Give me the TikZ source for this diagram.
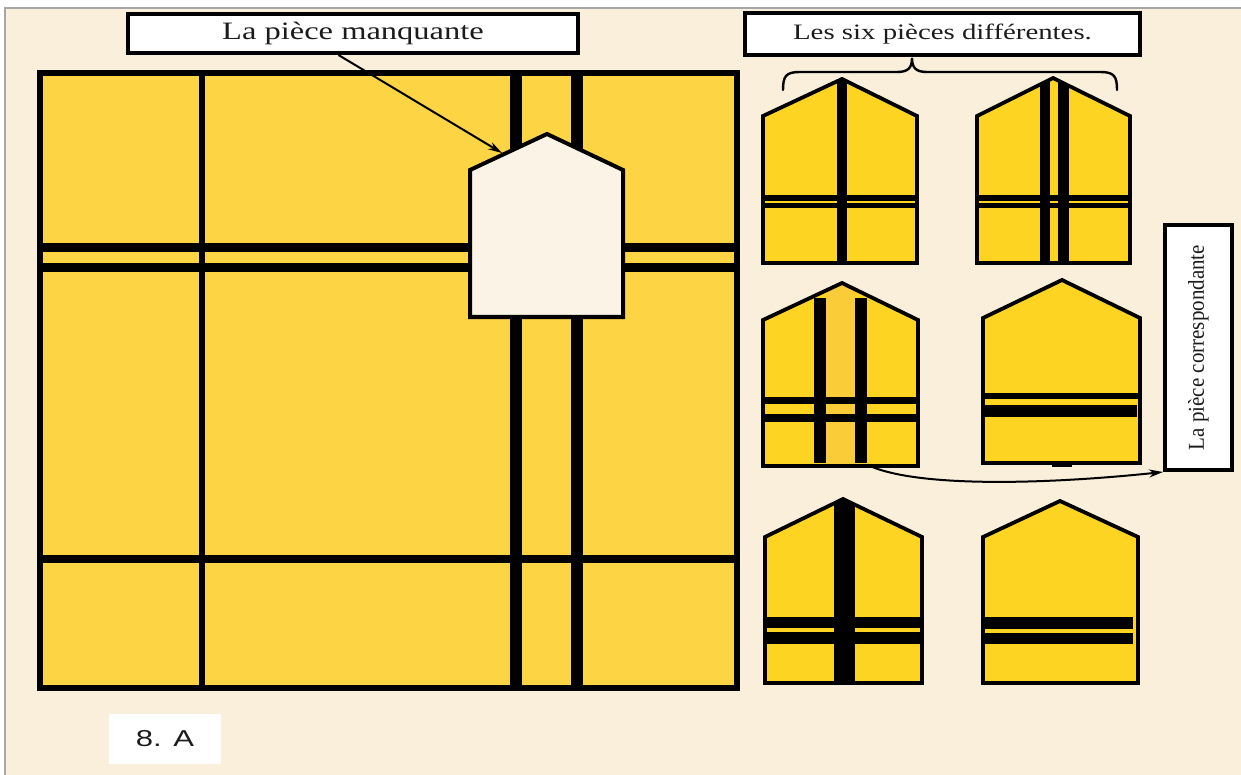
\documentclass[tikz,border=0pt]{standalone}
\usepackage{fontspec}
\setmainfont{Liberation Serif}
\newfontfamily\sansA{Liberation Sans}
\usetikzlibrary{arrows.meta,calc}
\definecolor{bgbeige}{HTML}{F9EFDB}
\definecolor{myellow}{HTML}{FDD544}
\definecolor{pyellow}{HTML}{FDD422}
\definecolor{pstripe}{HTML}{F9CC38}
\definecolor{cream}{HTML}{FBF4E6}
\definecolor{txt}{HTML}{1C1C1C}
\newcommand\pieceshape[7]{%
  \begin{scope}
    \clip (#1,#6) -- (#1,#5) -- (#3,#4) -- (#2,#5) -- (#2,#6) -- cycle;
    \fill[pyellow] (#1,#4) rectangle (#2,#6);
    #7
  \end{scope}
  \draw[pborder] (#1,#6) -- (#1,#5) -- (#3,#4) -- (#2,#5) -- (#2,#6) -- cycle;
}
\begin{document}
\begin{tikzpicture}[x=1pt,y=-1pt,
  pborder/.style={line width=3.8pt, line join=miter},
  labelbox/.style={draw=black, line width=4pt, fill=white, inner sep=0pt, text=txt},
  conn/.style={line width=2pt, -{Stealth[length=14pt,width=8pt]}}]
\useasboundingbox (0,0) rectangle (1241,775);
\fill[white] (0,0) rectangle (1241,775);
\fill[bgbeige] (5,8) rectangle (1241,775);
\draw[gray!70, line width=1.5pt] (5,775) -- (5,8) -- (1241,8);

% main square
\fill[myellow] (40,73) rectangle (737,688);
\draw[line width=8.5pt] (40,247.5) -- (737,247.5);
\draw[line width=8.5pt] (40,267.5) -- (737,267.5);
\draw[line width=8.5pt] (40,559) -- (737,559);
\draw[line width=5.5pt] (202,73) -- (202,688);
\draw[line width=12pt] (516,73) -- (516,688);
\draw[line width=12pt] (577,73) -- (577,688);
\draw[line width=5.5pt] (40,73) rectangle (737,688);
% missing piece
\filldraw[fill=cream, line width=4pt] (470,317) -- (470,170) -- (547,134) -- (623,170) -- (623,317) -- cycle;
\coordinate (mtip) at (502,153);

% six pieces
\pieceshape{763}{917}{842}{79}{116}{263}{%
  \draw[line width=9.5pt] (842,70) -- (842,270);
  \draw[line width=6pt] (755,198) -- (925,198);
  \draw[line width=4.5pt] (755,205.5) -- (925,205.5);}
\pieceshape{977}{1130}{1053}{78}{116}{263}{%
  \draw[line width=10pt] (1045,70) -- (1045,270);
  \draw[line width=11pt] (1063.5,70) -- (1063.5,270);
  \draw[line width=6pt] (970,198) -- (1140,198);
  \draw[line width=4.5pt] (970,205.5) -- (1140,205.5);}
\pieceshape{763}{918}{842}{283}{320}{466}{%
  \fill[pstripe] (826,280) rectangle (855,470);
  \draw[line width=7pt] (755,400.5) -- (925,400.5);
  \draw[line width=8pt] (755,418) -- (925,418);
  \draw[line width=12pt] (820,298) -- (820,463);
  \draw[line width=12pt] (861,298) -- (861,463);}
\pieceshape{983}{1140}{1062}{280}{318}{463}{%
  \draw[line width=6pt] (975,396) -- (1150,396);
  \draw[line width=12pt] (975,411) -- (1137,411);}
\draw[line width=3pt] (1052,465) -- (1072,465);
\pieceshape{765}{922}{843}{499}{537}{683}{%
  \draw[line width=11pt] (755,622.5) -- (930,622.5);
  \draw[line width=12pt] (755,638) -- (930,638);
  \draw[line width=21pt] (844,490) -- (844,690);}
\pieceshape{983}{1138}{1060}{501}{537}{683}{%
  \draw[line width=12pt] (975,623) -- (1133,623);
  \draw[line width=11pt] (975,638.5) -- (1133,638.5);}
\coordinate (p3out) at (870,466);

% labels
\node[labelbox, minimum width=450pt, minimum height=39pt] (lbl1) at (353,33.5)
  {\scalebox{1.3}[1]{\fontsize{25}{25}\selectfont La pièce manquante}};
\node[labelbox, minimum width=395pt, minimum height=42pt] (lbl2) at (942.5,34.5)
  {\scalebox{1.31}[1]{\fontsize{22}{22}\selectfont Les six pièces différentes.}};
\node[labelbox, minimum width=67pt, minimum height=245pt] (lbl3) at (1198.5,347.5) {};
\node[rotate=90, text=txt, inner sep=0pt] (lbl3t) at (lbl3.center)
  {\scalebox{1}[1.08]{\fontsize{21}{21}\selectfont La pièce correspondante}};
\node[fill=white, minimum width=112pt, minimum height=50pt, inner sep=0pt, text=txt] (lblA) at (165,739)
  {\scalebox{1.35}[1]{\sansA\fontsize{23}{23}\selectfont 8. A}};

% brace
\coordinate (btip) at (912,58);
\draw[line width=2.4pt, line cap=round] (783,90) .. controls (783,76) and (786,72) .. (800,72)
  -- (897,72) .. controls (908,72) and (912,68) .. (btip)
  .. controls (912,68) and (916,72) .. (927,72)
  -- (1100,72) .. controls (1114,72) and (1117,76) .. (1117,90);

% connectors
\draw[conn] (lbl1.236) -- (mtip);
\draw[conn] (p3out) .. controls (920,488) and (1050,484) .. (lbl3.south west);
\end{tikzpicture}
\end{document}
